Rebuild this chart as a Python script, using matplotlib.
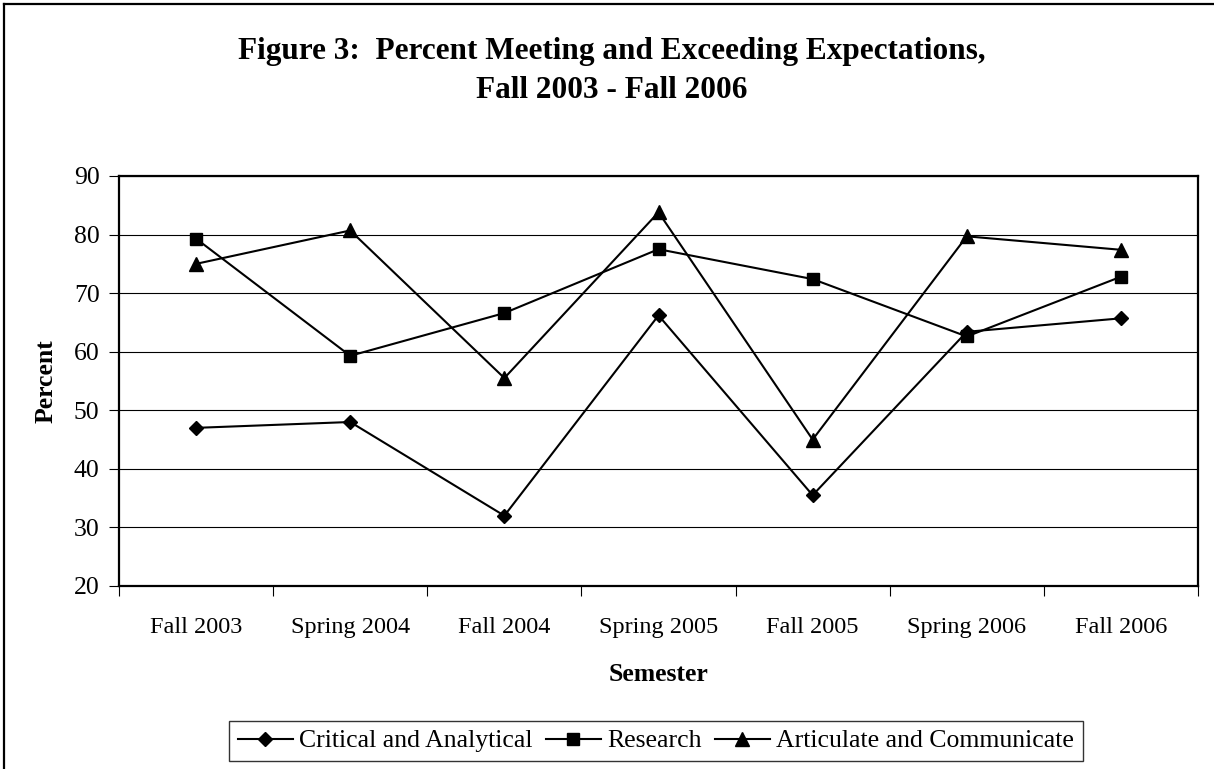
import matplotlib.pyplot as plt
from matplotlib.lines import Line2D
import numpy as np

plt.rcParams['font.family'] = ['Liberation Serif', 'DejaVu Serif']

# Data
semestres = ['Fall 2003', 'Spring 2004', 'Fall 2004', 'Spring 2005',
             'Fall 2005', 'Spring 2006', 'Fall 2006']
critical = [47.0, 48.0, 32.0, 66.2, 35.5, 63.4, 65.7]
research = [79.3, 59.3, 66.6, 77.5, 72.4, 62.6, 72.8]
articulate = [75.0, 80.7, 55.5, 83.8, 45.0, 79.7, 77.4]

W, H = 1214, 769
fig = plt.figure(figsize=(W / 100, H / 100), dpi=100)

# outer chart frame (top and left visible)
fig.add_artist(Line2D([4 / W, 4 / W], [0, 1 - 4 / H], color='black', lw=1.6))
fig.add_artist(Line2D([4 / W, 1], [1 - 4 / H, 1 - 4 / H], color='black', lw=1.6))

ax = fig.add_axes([119 / W, 1 - 586 / H, (1198 - 119) / W, (586 - 176) / H])

x = np.arange(len(semestres))
ax.plot(x, critical, color='black', lw=1.5, marker='D', ms=7, label='Critical and Analytical')
ax.plot(x, research, color='black', lw=1.5, marker='s', ms=8, label='Research')
ax.plot(x, articulate, color='black', lw=1.5, marker='^', ms=10, label='Articulate and Communicate')

ax.set_xlim(-0.5, len(semestres) - 0.5)
ax.set_ylim(20, 90)
ax.set_yticks(range(20, 91, 10))
ax.yaxis.grid(True, color='black', lw=0.8)
ax.set_axisbelow(True)

ax.set_xticks(x)
ax.set_xticklabels(semestres)
ax.set_xticks(np.arange(-0.5, len(semestres), 1), minor=True)
ax.tick_params(axis='x', which='major', length=0, pad=22, labelsize=17.5)
ax.tick_params(axis='x', which='minor', length=7, width=0.8, direction='out')
ax.tick_params(axis='y', length=7, width=0.8, pad=7, labelsize=18.5)

for s in ax.spines.values():
    s.set_linewidth(1.6)

ax.set_xlabel('Semester', fontsize=18.5, fontweight='bold')
ax.xaxis.set_label_coords(0.5, -(663 - 586) / (586 - 176))
ax.set_ylabel('Percent', fontsize=18.5, fontweight='bold')
ax.yaxis.set_label_coords(-(119 - 58) / (1198 - 119), 0.5)

fig.text(612 / W, 1 - 52 / H, 'Figure 3:  Percent Meeting and Exceeding Expectations,',
         ha='center', va='center', fontsize=22.5, fontweight='bold')
fig.text(612 / W, 1 - 91 / H, 'Fall 2003 - Fall 2006',
         ha='center', va='center', fontsize=22.5, fontweight='bold')

leg = fig.legend(loc='center', bbox_to_anchor=(656 / W, 1 - 741 / H), ncol=3,
                 fontsize=18.5, frameon=True, fancybox=False, edgecolor='black',
                 handlelength=2.15, handletextpad=0.25, columnspacing=0.5,
                 borderpad=0.35, borderaxespad=0)
leg.get_frame().set_linewidth(1.0)

plt.savefig('out.png', dpi=100)
